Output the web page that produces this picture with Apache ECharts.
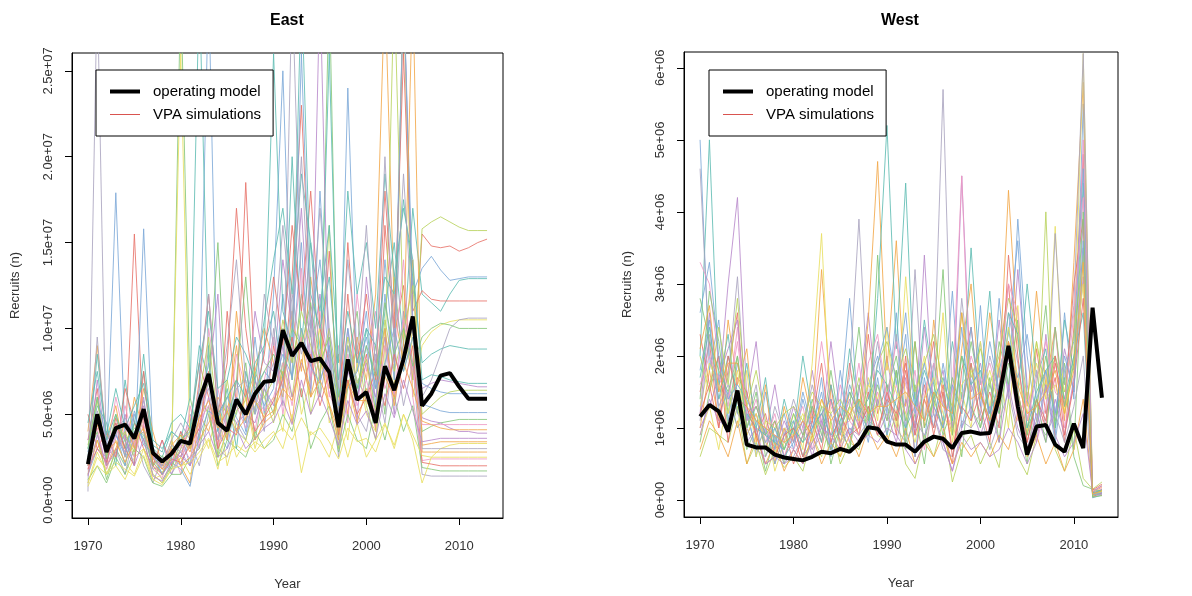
<!DOCTYPE html>
<html><head><meta charset="utf-8">
<script src="https://cdn.jsdelivr.net/npm/echarts@6/dist/echarts.min.js"></script>
<style>html,body{margin:0;padding:0;background:#fff}#c{width:1192px;height:596px}</style>
</head><body><div id="c"></div>
<script>
const years = [1970,1971,1972,1973,1974,1975,1976,1977,1978,1979,1980,1981,1982,1983,1984,1985,1986,1987,1988,1989,1990,1991,1992,1993,1994,1995,1996,1997,1998,1999,2000,2001,2002,2003,2004,2005,2006,2007,2008,2009,2010,2011,2012,2013];
const xTicks = [1970,1980,1990,2000,2010];
const eastYTicks = [0,5e6,1e7,1.5e7,2e7,2.5e7];
const eastYLabels = ['0.0e+00','5.0e+06','1.0e+07','1.5e+07','2.0e+07','2.5e+07'];
const westYTicks = [0,1e6,2e6,3e6,4e6,5e6,6e6];
const westYLabels = ['0e+00','1e+06','2e+06','3e+06','4e+06','5e+06','6e+06'];

// values in millions of recruits
const eastOM = [2.1,5.0,2.8,4.2,4.4,3.6,5.3,2.75,2.25,2.7,3.45,3.3,5.8,7.35,4.5,4.05,5.85,5.0,6.2,6.9,6.95,9.9,8.4,9.15,8.1,8.25,7.45,4.25,8.2,5.85,6.3,4.5,7.8,6.4,8.2,10.7,5.5,6.2,7.25,7.4,6.6,5.9,5.9,5.9];
const westOM = [1.16,1.32,1.23,0.95,1.52,0.77,0.73,0.73,0.63,0.59,0.57,0.55,0.60,0.67,0.65,0.71,0.67,0.79,1.01,0.99,0.81,0.77,0.77,0.67,0.81,0.88,0.85,0.72,0.93,0.95,0.92,0.93,1.42,2.14,1.30,0.63,1.02,1.04,0.77,0.67,1.06,0.72,2.67,1.42];

const eastSim01 = [3.5,6.5,2.0,4.8,3.0,15.5,4.0,2.2,1.5,3.0, 2.5,4.5,8.0,6.0,3.0,11.0,5.5,18.5,7.0,4.5, 9.0,6.5,13.0,23.0,11.0,7.0,14.5,5.0,12.0,6.0, 8.5,4.0,16.0,9.5,12.5,7.0, 15.5,14.8,14.7,14.8,14.5,14.7,15.0,15.2];
const eastSim02 = [1.5,3.0,2.5,17.9,3.5,2.0,15.8,3.0,1.8,2.5, 4.0,2.0,6.5,30,5.0,3.5,7.0,4.0,9.5,5.0, 12.0,25.0,8.0,15.0,6.0,18.0,9.0,3.5,24.0,7.5, 11.0,5.5,14.0,8.0,30,12.0, 13.5,14.2,13.4,12.8,12.9,13.0,13.0,13.0];
const eastSim03 = [2.5,4.0,1.2,3.0,2.0,4.5,3.5,1.5,1.0,2.0, 30,6.0,3.5,9.0,2.5,4.0,5.0,8.0,3.5,6.5, 5.0,10.0,7.0,12.0,9.5,6.0,30,4.0,8.0,11.0, 6.0,9.0,5.0,13.0,7.5,9.5, 4.0,4.3,4.5,4.6,4.7,4.7,4.7,4.7];
const eastSim04 = [2.0,7.0,3.0,2.5,5.0,3.0,6.0,2.0,3.5,1.5, 3.0,5.0,4.0,7.0,12.0,3.5,6.0,5.0,11.0,8.0, 7.5,14.0,10.0,17.0,8.0,12.0,7.0,5.5,10.0,4.5, 13.0,8.0,10.0,6.0,30,10.5, 6.5,6.8,7.0,6.9,6.8,6.7,6.6,6.6];
const eastSim05 = [4.0,9.0,3.5,5.5,2.5,6.0,4.0,2.5,2.0,3.5, 2.0,1.0,5.0,4.0,6.0,5.0,9.0,4.5,7.5,10.0, 8.0,6.0,11.0,7.5,13.0,9.0,6.5,8.5,5.0,9.5, 7.0,12.0,30,11.0,8.0,14.0, 3.2,3.3,3.4,3.4,3.4,3.4,3.4,3.4];
const eastSim06 = [1.0,2.5,1.8,3.5,2.2,1.5,3.0,1.2,1.5,2.8, 26.0,3.0,4.5,3.0,5.5,2.0,4.0,6.0,3.0,5.0, 6.0,4.0,9.0,5.0,7.0,10.0,4.5,6.0,3.5,8.0, 5.0,4.0,9.0,6.5,30,6.0, 9.0,9.8,10.2,10.4,10.5,10.5,10.5,10.5];
const eastSim07 = [3.0,5.5,4.5,2.0,7.0,3.5,8.5,3.0,2.5,4.0, 3.5,6.0,30,8.0,4.0,6.5,3.0,7.5,5.0,9.0, 11.0,7.0,20.0,9.0,15.0,8.0,26.0,6.0,9.0,6.0, 10.0,6.5,11.0,15.0,9.0,17.0, 12.0,11.5,11.0,12.0,12.8,12.9,12.9,12.9];
const eastSim08 = [0.5,30,2.0,3.0,1.5,4.0,2.0,1.0,2.5,1.5, 2.5,3.5,2.0,5.0,3.0,2.5,4.5,3.5,6.0,4.0, 10.0,5.5,30,12.0,8.0,6.0,9.0,2.5,7.0,5.0, 4.0,7.0,4.5,9.0,5.5,8.0, 1.5,1.4,1.4,1.4,1.4,1.4,1.4,1.4];
const eastSim09 = [2.2,3.5,1.5,2.8,4.0,2.5,5.0,2.0,1.2,2.0, 3.0,4.0,6.0,5.0,2.5,7.0,4.0,3.5,5.5,6.0, 4.5,8.0,6.0,10.0,5.0,7.5,16.0,3.0,6.5,9.0, 5.5,3.5,8.0,30,10.0,7.0, 15.8,16.2,16.5,16.2,15.9,15.7,15.7,15.7];
const eastSim10 = [1.8,4.5,2.5,6.0,3.5,2.5,4.5,1.8,1.3,3.0, 1.5,5.5,3.0,10.0,6.5,4.0,8.5,6.5,4.0,7.0, 9.5,5.0,8.5,13.5,7.0,11.0,6.0,9.0,4.5,12.0, 7.5,11.0,6.5,8.0,14.0,6.0, 2.3,2.4,2.4,2.4,2.4,2.4,2.4,2.4];
const eastSim11 = [5.0,3.0,4.0,2.5,6.5,4.5,3.0,2.0,3.5,2.0, 4.0,3.0,7.0,12.0,5.0,8.0,17.0,10.0,6.0,8.5, 13.0,9.0,16.0,11.0,18.0,10.0,8.0,4.5,15.0,8.0, 12.0,7.0,18.0,10.0,26.0,11.0, 12.2,11.7,11.6,11.6,11.6,11.6,11.6,11.6];
const eastSim12 = [2.8,6.0,3.5,4.0,2.0,5.0,3.5,2.5,1.5,2.5, 2.0,3.5,5.0,8.0,4.0,3.0,6.0,4.5,7.0,5.5, 6.5,12.0,7.0,26.0,10.0,14.0,8.0,5.0,10.0,6.5, 9.0,5.0,12.0,7.0,30,10.0, 6.8,6.5,6.3,6.2,6.2,6.2,6.2,6.2];
const eastSim13 = [1.2,2.0,1.0,2.5,1.5,3.0,2.5,1.0,0.8,1.5, 1.5,2.5,3.0,5.5,2.0,3.5,3.0,2.5,4.0,3.0, 3.5,5.0,4.0,6.5,3.0,4.5,5.5,2.8,5.0,3.5, 3.0,5.5,3.5,6.0,4.0,5.5, 1.9,1.8,1.7,1.7,1.7,1.7,1.7,1.7];
const eastSim14 = [3.5,5.0,2.2,3.8,2.8,3.8,5.5,2.5,2.0,2.2, 2.8,2.0,4.0,6.0,3.5,5.5,4.5,5.0,4.5,6.5, 5.5,9.0,6.0,8.0,6.5,30,7.0,5.0,7.5,6.0, 8.0,6.0,9.5,5.0,11.0,8.0, 4.8,4.6,4.5,4.2,4.0,4.0,3.9,3.9];
const eastSim15 = [1.5,3.5,2.0,3.0,4.5,3.0,6.5,4.0,2.0,3.0, 2.0,2.5,3.5,4.5,5.5,3.5,11.0,6.0,3.5,4.5, 5.0,7.5,4.5,9.5,6.0,8.5,5.5,3.5,7.0,4.5, 6.5,4.5,10.0,5.5,9.0,30, 2.8,2.8,2.8,2.8,2.8,2.8,2.8,2.8];
const eastSim16 = [0.8,2.0,1.5,2.0,1.2,2.5,3.0,1.5,1.0,1.8, 2.5,1.5,2.5,3.5,1.8,4.5,2.5,3.5,2.8,3.5, 4.0,3.0,5.0,1.6,4.0,3.5,2.5,4.5,2.5,4.5, 2.5,3.5,4.5,3.0,5.0,3.5, 1.0,2.5,3.0,3.2,3.3,3.3,3.3,3.3];
const eastSim17 = [2.5,8.5,3.5,5.0,3.0,4.5,7.5,3.5,3.0,4.0, 3.5,4.0,9.0,7.0,5.0,6.0,7.0,6.0,8.0,9.0, 26,11.0,9.0,30,12.0,10.0,13.0,7.0,11.0,8.0, 10.0,9.0,13.0,12.0,17.5,13.0, 8.0,8.5,8.8,9.0,8.9,8.8,8.8,8.8];
const eastSim18 = [2.0,9.5,3.0,4.5,2.5,3.5,4.0,1.8,2.0,3.5, 4.5,3.5,5.5,6.5,3.5,5.0,6.5,7.0,5.0,6.5, 8.0,6.5,12.0,8.5,10.5,7.0,8.5,4.0,9.0,7.0, 6.0,8.5,7.5,12.0,8.5,10.0, 6.0,7.0,8.5,10.0,10.5,10.6,10.6,10.6];
const eastSim19 = [3.2,5.8,2.6,4.2,3.8,2.8,5.0,2.2,1.6,2.6, 3.8,3.0,6.0,9.5,4.5,3.8,5.2,5.8,7.5,6.0, 7.0,10.5,8.0,11.0,9.0,7.5,10.0,4.2,9.5,6.8, 8.2,5.2,10.5,7.5,9.8,12.5, 5.0,5.5,6.0,6.3,6.4,6.4,6.4,6.4];
const eastSim20 = [2.6,4.2,1.8,3.6,5.5,3.2,4.8,2.6,1.8,2.2, 3.2,2.4,4.6,5.5,3.2,4.6,5.5,4.2,6.0,5.2, 6.0,8.0,5.5,9.5,7.2,8.8,6.2,4.8,8.5,5.5, 7.0,5.0,9.0,6.2,10.5,7.5, 4.4,4.4,4.4,4.4,4.4,4.4,4.4,4.4];
const eastSim21 = [1.8,3.0,2.2,4.5,3.0,2.0,7.5,2.0,1.5,2.4, 2.2,3.2,4.2,7.5,3.0,4.2,3.8,6.5,4.0,4.8, 5.8,7.0,9.5,6.0,8.5,5.5,7.5,3.8,7.0,5.0, 6.0,7.5,5.5,8.5,6.5,9.0, 2.2,2.1,2.0,2.0,2.0,2.0,2.0,2.0];
const eastSim22 = [2.4,4.8,3.0,3.8,2.6,5.2,3.2,2.8,1.5,2.2, 1.8,0.8,3.8,5.2,4.8,6.0,4.8,3.8,6.5,7.5, 6.8,8.5,7.2,10.0,7.8,6.8,9.0,5.5,6.5,7.5, 9.5,6.5,8.0,10.0,7.5,9.5, 5.6,5.4,5.2,5.1,5.1,5.1,5.1,5.1];
const eastSim23 = [3.0,6.0,2.4,5.0,3.4,4.2,3.8,2.0,2.6,1.8, 3.5,4.2,5.8,6.8,15.0,4.4,7.0,13.0,6.2,7.5, 8.5,7.2,10.0,9.0,11.5,8.0,9.5,6.0,8.0,6.5, 9.0,7.2,11.5,8.5,10.0,7.8, 9.5,10.0,10.3,10.2,10.0,10.0,10.0,10.0];
const eastSim24 = [1.4,3.8,2.0,2.8,3.8,2.0,3.6,1.4,1.1,2.2, 2.6,2.0,3.2,4.0,2.5,3.0,4.2,3.0,3.6,4.2, 4.6,5.8,4.4,7.0,5.0,6.2,4.8,3.2,5.8,4.4, 5.2,3.6,6.2,4.8,7.0,5.2, 3.4,3.5,3.6,3.6,3.6,3.6,3.6,3.6];
const eastSim25 = [2.0,4.4,2.8,3.4,2.2,3.4,4.2,2.4,1.8,3.2, 3.8,2.8,4.8,5.8,4.2,5.2,4.0,4.8,5.8,4.8, 5.2,6.5,5.8,8.2,6.0,7.0,5.6,4.0,6.8,5.8, 5.8,4.6,7.2,6.0,8.0,6.5, 4.6,4.4,4.2,4.1,4.1,4.1,4.1,4.1];
const eastSim26 = [1.0,2.8,1.6,2.2,1.8,1.4,2.6,1.2,0.9,1.8, 2.0,2.2,2.8,3.6,2.2,2.6,3.2,2.8,3.4,3.0, 3.8,4.2,3.5,4.8,3.8,4.2,3.4,2.4,4.2,3.4, 3.6,2.8,4.4,3.2,5.0,3.8, 2.6,2.5,2.5,2.5,2.5,2.5,2.5,2.5];
const eastSim27 = [4.5,7.5,3.8,6.5,4.2,5.5,6.8,3.2,2.8,4.5, 5.0,4.2,8.0,11.0,6.5,7.0,9.5,8.5,7.0,10.5, 14.0,17.0,12.0,19.0,15.0,11.0,16.0,8.0,18.0,12.0, 15.0,10.0,19.0,13.0,17.0,14.0, 7.0,7.3,7.2,7.0,6.9,6.8,6.8,6.8];
const eastSim28 = [2.2,5.2,3.2,4.0,4.8,3.6,5.8,2.8,2.0,3.2, 2.8,3.6,6.5,12.0,5.2,9.0,14.0,6.8,5.2,12.0, 9.0,16.0,10.5,20.0,9.5,17.0,10.0,6.5,14.0,8.5, 16.0,7.5,20.0,9.0,19.0,10.0, 3.0,3.0,3.0,3.0,3.0,3.0,3.0,3.0];

const westSim01 = [1.5,2.2,1.0,1.8,2.6,0.9,1.2,0.7,1.1,0.6, 0.9,0.5,1.3,0.8,1.6,0.7,1.9,1.0,2.3,1.2, 1.6,0.9,2.0,0.6,1.4,2.2,1.0,0.5,1.8,2.4, 1.3,0.8,1.9,3.0,1.5,0.9,2.1,1.2,1.7,0.8,2.4,4.8, 0.08,0.15];
const westSim02 = [5.0,1.8,2.5,1.1,1.9,1.3,0.6,1.5,0.8,1.2, 0.7,1.4,0.9,1.7,0.6,1.3,2.8,1.1,1.6,2.0, 1.2,2.6,1.0,1.5,0.8,1.9,1.3,2.9,1.0,1.6, 2.2,1.0,2.8,1.5,3.9,2.0,1.1,1.8,0.9,2.6,1.4,5.5, 0.05,0.10];
const westSim03 = [0.8,1.5,2.0,1.0,1.4,0.7,1.0,0.4,0.9,0.5, 1.1,0.6,0.8,1.3,0.5,1.0,0.7,1.6,0.9,1.4, 0.9,1.8,0.7,1.2,0.5,1.5,0.9,1.3,0.6,1.9, 1.0,1.7,0.8,2.2,1.2,0.5,1.6,2.7,1.0,1.9,0.7,3.5, 0.10,0.12];
const westSim04 = [1.2,2.6,1.5,3.0,4.2,1.4,2.2,0.9,1.6,0.8, 1.3,0.9,1.8,1.0,2.2,1.2,0.8,1.5,2.6,1.3, 2.0,1.1,1.7,0.9,2.4,1.3,1.8,1.0,4.5,1.5, 1.9,1.2,2.5,1.4,3.2,1.6,0.9,2.3,1.2,2.1,1.5,3.9, 0.06,0.09];
const westSim05 = [1.0,1.8,1.1,2.5,1.6,2.1,0.8,1.6,0.5,1.3, 0.8,1.7,1.1,3.2,1.4,0.9,1.5,1.2,2.5,4.7, 1.8,3.6,1.3,2.2,1.0,2.5,1.4,0.9,2.1,3.0, 1.4,2.6,1.7,4.3,2.2,1.3,2.9,1.6,2.4,1.1,3.3,5.8, 0.10,0.18];
const westSim06 = [0.9,1.3,0.7,1.5,1.0,1.8,0.6,1.1,0.4,0.8, 1.2,0.7,1.9,3.7,1.0,0.6,1.3,0.9,1.7,1.1, 2.4,1.0,3.1,1.4,2.0,1.2,2.6,0.8,1.5,1.0, 2.2,1.3,1.9,1.0,2.7,0.9,2.2,1.4,3.8,1.2,2.0,6.2, 0.12,0.20];
const westSim07 = [2.0,5.0,1.6,2.3,1.2,1.9,1.0,1.7,0.7,1.4, 0.9,2.0,1.2,0.8,1.6,1.0,2.1,1.3,1.1,2.8, 5.2,2.1,4.4,1.3,2.5,1.6,1.1,2.2,1.4,3.5, 1.6,2.9,1.2,2.4,1.5,3.0,1.7,2.1,1.0,2.5,1.8,4.4, 0.07,0.14];
const westSim08 = [4.6,2.0,1.4,1.7,3.1,1.1,1.6,0.7,1.3,0.9, 1.4,1.0,1.6,1.1,0.8,1.2,1.7,3.9,1.4,2.2, 1.3,2.3,0.9,3.2,1.1,1.7,5.7,1.2,2.8,1.6, 1.2,2.0,1.5,2.6,1.9,1.1,1.8,1.0,3.7,1.6,2.7,6.2, 0.04,0.08];
const westSim09 = [0.6,1.0,0.9,0.8,1.3,0.5,0.8,0.35,0.7,0.45, 0.6,0.4,0.9,0.6,1.1,0.5,0.8,0.7,1.2,0.9, 0.8,1.2,0.5,0.3,0.9,0.6,1.1,0.25,0.7,0.9, 0.5,0.8,0.45,1.4,0.6,0.35,0.9,4.0,0.7,0.4,1.0,0.3, 0.15,0.25];
const westSim10 = [3.3,3.0,1.9,1.3,2.4,1.0,1.4,0.8,1.2,0.6, 1.0,1.3,0.7,1.2,0.9,1.6,1.1,1.9,1.0,1.5, 1.1,1.6,1.2,1.8,0.7,1.3,1.0,1.5,4.5,1.2, 1.7,0.9,1.3,2.0,1.1,1.5,0.8,1.3,2.4,1.0,1.6,5.0, 0.09,0.16];
const westSim11 = [2.3,1.6,2.0,0.8,1.7,1.5,0.9,1.2,0.6,1.0, 0.5,0.9,1.1,0.7,1.4,0.8,1.2,0.9,1.5,1.0, 1.4,1.2,1.9,1.0,1.6,0.9,1.5,0.7,1.3,1.9, 1.1,1.5,1.0,3.4,2.0,0.8,1.4,1.0,1.9,1.3,3.0,3.9, 0.05,0.10];
const westSim12 = [1.8,2.5,1.2,1.5,1.0,1.2,0.7,1.0,0.5,0.9, 1.1,0.6,1.0,1.5,0.7,1.8,0.9,1.3,0.8,1.7, 0.9,1.4,2.3,0.6,1.7,1.0,1.9,1.2,2.4,1.1, 2.7,1.0,1.8,2.3,3.6,1.4,1.0,1.6,0.8,1.8,2.2,4.6, 0.03,0.07];
const westSim13 = [1.4,2.9,2.2,1.2,2.0,1.0,1.5,0.6,1.0,0.7, 1.0,0.8,1.4,0.9,1.8,1.0,0.7,1.4,0.9,3.4, 1.5,2.0,1.1,1.6,0.8,1.4,1.0,1.7,1.2,2.2, 1.5,1.1,2.2,1.6,2.5,1.0,1.3,2.0,1.1,1.7,0.6,0.2, 0.15,0.12];
const westSim14 = [1.0,1.3,1.7,2.1,2.5,1.1,1.3,0.9,0.7,1.1, 0.8,1.1,0.6,1.1,0.7,1.0,1.4,1.0,1.3,0.9, 1.2,0.8,1.4,1.0,3.4,1.2,0.8,0.4,1.0,1.3, 0.9,1.3,0.8,1.6,1.0,0.7,1.2,0.8,1.4,0.9,1.7,3.1, 0.08,0.11];
const westSim15 = [0.7,1.1,0.9,0.6,1.1,0.5,0.9,0.5,0.8,0.4, 0.7,0.5,0.9,0.5,0.8,0.6,0.9,0.6,1.0,0.7, 0.9,0.6,1.0,0.5,0.8,0.6,0.9,0.5,0.8,0.6, 0.8,0.6,0.9,0.7,1.2,0.6,0.9,0.5,0.8,0.4,0.7,1.4, 0.12,0.06];
const westSim16 = [1.3,1.9,1.6,1.2,1.8,0.9,1.2,0.8,0.6,1.0, 0.9,1.2,0.8,1.4,1.0,0.8,1.3,1.1,1.6,1.4, 1.9,1.5,1.2,0.8,1.4,1.7,1.2,0.9,1.6,1.8, 1.4,1.8,1.3,2.4,1.7,1.2,1.9,1.4,1.6,1.2,1.9,3.0, 0.06,0.12];
const westSim17 = [1.7,2.4,1.4,2.0,1.5,1.2,1.0,0.9,0.8,0.7, 1.0,0.8,1.0,1.2,0.9,1.1,1.5,1.2,1.4,1.8, 1.6,1.3,1.0,1.3,1.8,1.4,1.7,1.1,2.0,1.6, 1.8,1.2,1.6,2.6,2.3,1.0,1.5,1.8,2.0,1.4,2.0,2.6, 0.10,0.14];
const westSim18 = [1.1,2.3,1.3,1.6,1.2,1.0,0.7,0.6,0.9,0.5, 0.6,0.9,0.7,0.9,1.2,0.8,1.0,0.9,1.1,1.0, 1.3,1.0,0.8,1.1,0.9,1.2,0.7,0.6,1.1,1.0, 1.2,0.7,1.1,1.5,0.9,0.7,1.1,0.9,1.2,0.8,1.3,2.0, 0.09,0.07];
const westSim19 = [2.0,1.5,2.4,1.6,2.8,1.3,1.8,1.1,1.0,1.2, 1.3,1.1,1.5,1.3,1.2,1.4,1.1,1.7,1.2,1.9, 2.2,1.7,2.1,1.5,1.9,2.3,1.6,1.3,2.6,1.7, 2.1,1.6,2.0,2.8,2.4,1.4,2.2,1.5,2.0,1.5,2.3,3.4, 0.05,0.13];
const westSim20 = [1.6,2.0,1.7,1.4,2.2,1.2,1.3,1.0,0.9,0.8, 0.7,1.0,1.2,2.2,1.3,1.0,1.1,0.9,1.9,2.3, 1.4,2.2,1.6,1.2,1.5,1.9,1.3,1.0,1.4,2.0, 1.6,1.9,1.4,3.0,2.6,1.1,1.7,2.2,1.5,1.3,2.6,4.2, 0.13,0.19];
const westSim21 = [1.2,1.6,1.0,2.0,1.4,1.3,0.9,0.5,0.6,0.9, 1.0,0.6,1.1,1.9,0.8,1.2,0.9,1.0,1.3,0.9, 1.5,1.1,1.8,0.9,1.4,1.0,1.6,0.6,1.3,1.1, 1.5,1.0,1.6,2.2,1.5,0.8,1.4,1.1,2.0,0.9,1.6,2.8, 0.14,0.22];
const westSim22 = [2.6,3.3,2.0,1.4,1.6,1.4,1.1,0.8,1.0,0.6, 0.8,1.5,1.0,1.2,1.4,0.9,1.6,1.2,1.0,1.9, 2.4,1.6,2.6,1.2,1.9,1.3,1.0,1.6,1.2,2.4, 1.3,2.2,1.5,2.0,1.7,2.3,1.4,1.8,1.2,2.0,1.5,3.6, 0.07,0.10];
const westSim23 = [2.8,2.2,1.8,1.5,2.0,1.0,1.3,0.9,1.1,0.7, 1.2,0.9,1.3,1.0,0.7,1.0,1.3,2.4,1.1,1.6, 1.1,1.8,0.8,2.2,1.0,1.4,3.2,0.9,2.0,1.3, 1.0,1.6,1.2,1.9,1.5,0.9,1.4,0.8,2.4,1.3,1.9,4.0, 0.04,0.06];
const westSim24 = [0.9,1.4,1.1,1.0,1.5,0.8,1.0,0.5,0.6,0.5, 0.7,0.5,0.8,1.0,0.9,0.7,1.0,0.8,0.9,0.8, 1.0,0.9,0.7,0.5,0.8,0.9,0.8,0.4,0.9,0.7, 0.8,0.6,0.7,1.0,0.8,0.5,0.8,1.6,0.9,0.6,0.8,1.2, 0.11,0.20];
const westSim25 = [2.1,2.7,1.5,1.9,1.9,1.3,1.1,1.0,0.9,0.8, 0.9,1.1,0.9,1.4,1.1,1.3,1.2,1.4,1.2,1.3, 1.3,1.4,1.5,1.3,1.1,1.5,1.3,1.2,2.6,1.4, 1.5,1.1,1.5,2.2,1.6,1.2,1.3,1.5,1.8,1.2,1.8,3.3, 0.08,0.13];

const eastSims = [eastSim01,eastSim02,eastSim03,eastSim04,eastSim05,eastSim06,eastSim07,eastSim08,eastSim09,eastSim10,eastSim11,eastSim12,eastSim13,eastSim14,eastSim15,eastSim16,eastSim17,eastSim18,eastSim19,eastSim20,eastSim21,eastSim22,eastSim23,eastSim24,eastSim25,eastSim26,eastSim27,eastSim28];
const westSims = [westSim01,westSim02,westSim03,westSim04,westSim05,westSim06,westSim07,westSim08,westSim09,westSim10,westSim11,westSim12,westSim13,westSim14,westSim15,westSim16,westSim17,westSim18,westSim19,westSim20,westSim21,westSim22,westSim23,westSim24,westSim25];
const simColors = ['#e8736a','#7ea9d8','#86c77a','#b98acb','#f2a84a','#e9df62','#5fbcb3','#aaa4bf','#b9d25e','#ef9ac6'];

const chart = echarts.init(document.getElementById('c'), null, {renderer:'canvas'});
const font = 'Liberation Sans, Arial, sans-serif';
const toPts = arr => years.map((y,i)=>[y, arr[i]*1e6]);

function xAxisFor(gi){
  return {gridIndex:gi, type:'value', min:1968.28, max:2014.72, name:'Year', nameLocation:'middle', nameGap:60,
    nameTextStyle:{fontFamily:font,fontSize:13,color:'#333'},
    axisLine:{show:true,onZero:false,lineStyle:{color:'#000'}}, splitLine:{show:false},
    axisTick:{show:true,customValues:xTicks,length:7,lineStyle:{color:'#000'}},
    axisLabel:{customValues:xTicks,margin:22,fontFamily:font,fontSize:13,color:'#333',formatter:v=>String(v)}};
}
function yAxisFor(gi,min,max,ticks,labels){
  return {gridIndex:gi, type:'value', min:min, max:max, name:'Recruits (n)', nameLocation:'middle', nameGap:50, nameRotate:90,
    nameTextStyle:{fontFamily:font,fontSize:13,color:'#333'},
    axisLine:{show:true,onZero:false,lineStyle:{color:'#000'}}, splitLine:{show:false},
    axisTick:{show:true,customValues:ticks,length:7,lineStyle:{color:'#000'}},
    axisLabel:{customValues:ticks,rotate:90,margin:17,fontFamily:font,fontSize:13,color:'#333',
      formatter:v=>{const k=ticks.findIndex(t=>Math.abs(t-v)<1);return k>=0?labels[k]:'';}}};
}
const series = [];
eastSims.forEach((s,i)=>series.push({name:'VPA simulations',type:'line',xAxisIndex:0,yAxisIndex:0,data:toPts(s),symbol:'none',silent:true,
  lineStyle:{width:1,color:simColors[i%simColors.length],opacity:0.85},itemStyle:{color:simColors[i%simColors.length]}}));
westSims.forEach((s,i)=>series.push({name:'VPA simulations',type:'line',xAxisIndex:1,yAxisIndex:1,data:toPts(s),symbol:'none',silent:true,
  lineStyle:{width:1,color:simColors[i%simColors.length],opacity:0.85},itemStyle:{color:simColors[i%simColors.length]}}));
series.push({name:'operating model',type:'line',xAxisIndex:0,yAxisIndex:0,data:toPts(eastOM),symbol:'none',z:5,lineStyle:{width:4,color:'#000'},itemStyle:{color:'#000'}});
series.push({name:'operating model',type:'line',xAxisIndex:1,yAxisIndex:1,data:toPts(westOM),symbol:'none',z:5,lineStyle:{width:4,color:'#000'},itemStyle:{color:'#000'}});

function legendAt(left,top){
  return {orient:'vertical', left:left, top:top, selectedMode:false,
    data:[
      {name:'operating model',icon:'path://M0,0H30V4H0Z',itemStyle:{color:'#000',borderWidth:0},lineStyle:{color:'#000',width:0}},
      {name:'VPA simulations',icon:'path://M0,0H30V1H0Z',itemStyle:{color:'#d9534f',borderWidth:0},lineStyle:{color:'#d9534f',width:0}}
    ],
    borderColor:'#000', borderWidth:1, padding:[14,12,14,14], itemWidth:30, itemHeight:14, itemGap:8,
    textStyle:{fontFamily:font,fontSize:15,color:'#000',padding:[0,0,0,8]}, backgroundColor:'#fff'};
}

chart.setOption({
  animation:false,
  backgroundColor:'#fff',
  title:[
    {text:'East',left:265,top:8,textStyle:{fontFamily:font,fontSize:16,fontWeight:'bold',color:'#000'}},
    {text:'West',left:876,top:8,textStyle:{fontFamily:font,fontSize:16,fontWeight:'bold',color:'#000'}}
  ],
  legend:[legendAt(96,70),legendAt(709,70)],
  grid:[
    {left:72,top:53,width:431,height:466,show:true,borderColor:'#000',borderWidth:1,backgroundColor:'transparent'},
    {left:684,top:52,width:434,height:465,show:true,borderColor:'#000',borderWidth:1,backgroundColor:'transparent'}
  ],
  xAxis:[xAxisFor(0),xAxisFor(1)],
  yAxis:[yAxisFor(0,-1.04e6,2.604e7,eastYTicks,eastYLabels),yAxisFor(1,-0.236e6,6.22e6,westYTicks,westYLabels)],
  series:series
});
</script></body></html>
